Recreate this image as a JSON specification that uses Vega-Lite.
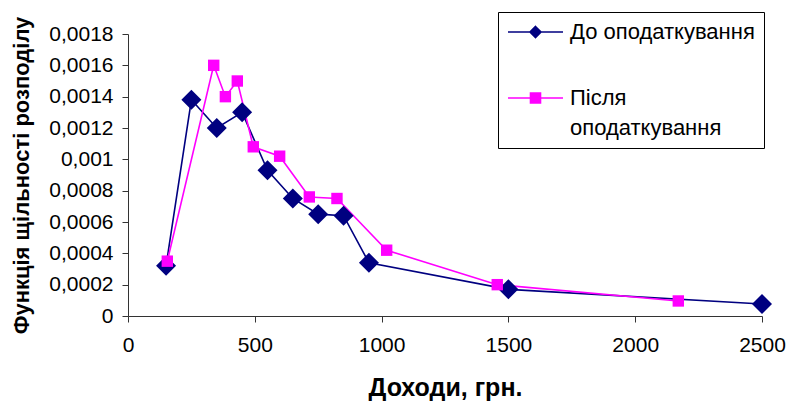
{
  "$schema": "https://vega.github.io/schema/vega-lite/v6.json",
  "width": 634,
  "height": 282,
  "autosize": {"type": "none"},
  "padding": {"left": 128, "top": 34, "right": 25, "bottom": 85},
  "background": "white",
  "config": {"view": {"stroke": null}},
  "data": {
    "values": [
      {"series": "До оподаткування", "income": 150, "density": 0.00032},
      {"series": "До оподаткування", "income": 250, "density": 0.00138},
      {"series": "До оподаткування", "income": 350, "density": 0.0012},
      {"series": "До оподаткування", "income": 450, "density": 0.0013},
      {"series": "До оподаткування", "income": 550, "density": 0.00093},
      {"series": "До оподаткування", "income": 650, "density": 0.00075},
      {"series": "До оподаткування", "income": 750, "density": 0.00065},
      {"series": "До оподаткування", "income": 850, "density": 0.00064},
      {"series": "До оподаткування", "income": 950, "density": 0.00034},
      {"series": "До оподаткування", "income": 1500, "density": 0.00017},
      {"series": "До оподаткування", "income": 2500, "density": 0.000077},
      {"series": "Після оподаткування", "income": 155, "density": 0.00035},
      {"series": "Після оподаткування", "income": 338, "density": 0.0016},
      {"series": "Після оподаткування", "income": 384, "density": 0.0014},
      {"series": "Після оподаткування", "income": 431, "density": 0.0015},
      {"series": "Після оподаткування", "income": 494, "density": 0.00108},
      {"series": "Після оподаткування", "income": 598, "density": 0.00102},
      {"series": "Після оподаткування", "income": 715, "density": 0.00076},
      {"series": "Після оподаткування", "income": 824, "density": 0.00075},
      {"series": "Після оподаткування", "income": 1020, "density": 0.00042},
      {"series": "Після оподаткування", "income": 1456, "density": 0.0002},
      {"series": "Після оподаткування", "income": 2170, "density": 0.000096}
    ]
  },
  "encoding": {
    "x": {
      "field": "income", "type": "quantitative",
      "scale": {"domain": [0, 2500], "nice": false, "zero": true},
      "axis": {
        "title": "Доходи, грн.",
        "values": [0, 500, 1000, 1500, 2000, 2500],
        "format": "d",
        "grid": false,
        "labelFlush": false,
        "labelOverlap": false,
        "domainColor": "#333333", "tickColor": "#333333",
        "tickSize": 6,
        "labelFont": "Liberation Sans", "labelFontSize": 21, "labelColor": "black",
        "labelPadding": 12,
        "titleFont": "Liberation Sans", "titleFontSize": 25, "titleFontWeight": "bold", "titleColor": "black",
        "titlePadding": 20
      }
    },
    "y": {
      "field": "density", "type": "quantitative",
      "scale": {"domain": [0, 0.0018], "nice": false},
      "axis": {
        "title": "Функція щільності розподілу",
        "values": [0, 0.0002, 0.0004, 0.0006, 0.0008, 0.001, 0.0012, 0.0014, 0.0016, 0.0018],
        "labelExpr": "replace(format(datum.value, '~f'), '.', ',')",
        "grid": false,
        "labelFlush": false,
        "labelOverlap": false,
        "domainColor": "#333333", "tickColor": "#333333",
        "tickSize": 6,
        "labelFont": "Liberation Sans", "labelFontSize": 21, "labelColor": "black",
        "labelPadding": 9,
        "titleFont": "Liberation Sans", "titleFontSize": 22, "titleFontWeight": "bold", "titleColor": "black",
        "titlePadding": 15
      }
    }
  },
  "layer": [
    {
      "mark": {"type": "line", "strokeWidth": 1.6},
      "encoding": {
        "color": {
          "field": "series", "type": "nominal",
          "scale": {"domain": ["До оподаткування", "Після оподаткування"], "range": ["#000080", "#FF00FF"]},
          "legend": {
            "orient": "none", "legendX": 370, "legendY": -22,
            "title": null,
            "strokeColor": "black", "fillColor": "white", "padding": 9,
            "symbolSize": 400, "symbolStrokeWidth": 1.6,
            "labelFont": "Liberation Sans", "labelFontSize": 22, "labelColor": "black",
            "labelOffset": 41, "labelLimit": 0,
            "rowPadding": 44,
            "labelExpr": "datum.label == 'Після оподаткування' ? ['Після', 'оподаткування'] : datum.label",
            "encode": {
              "symbols": {"update": {
                "shape": {"signal": "datum.value == 'До оподаткування' ? 'M-1,0H4.5M1.75,-0.55L2.3,0L1.75,0.55L1.2,0Z' : 'M-1,0H4.5M1.25,-0.5H2.25V0.5H1.25Z'"},
                "fill": {"signal": "datum.value == 'До оподаткування' ? '#000080' : '#FF00FF'"}
              }},
              "labels": {"update": {"lineHeight": {"value": 30}}}
            }
          }
        }
      }
    },
    {
      "transform": [{"filter": "datum.series == 'До оподаткування'"}],
      "mark": {"type": "point", "filled": true, "opacity": 1, "shape": "diamond", "size": 400, "color": "#000080"}
    },
    {
      "transform": [{"filter": "datum.series == 'Після оподаткування'"}],
      "mark": {"type": "point", "filled": true, "opacity": 1, "shape": "square", "size": 130, "color": "#FF00FF"}
    }
  ]
}
